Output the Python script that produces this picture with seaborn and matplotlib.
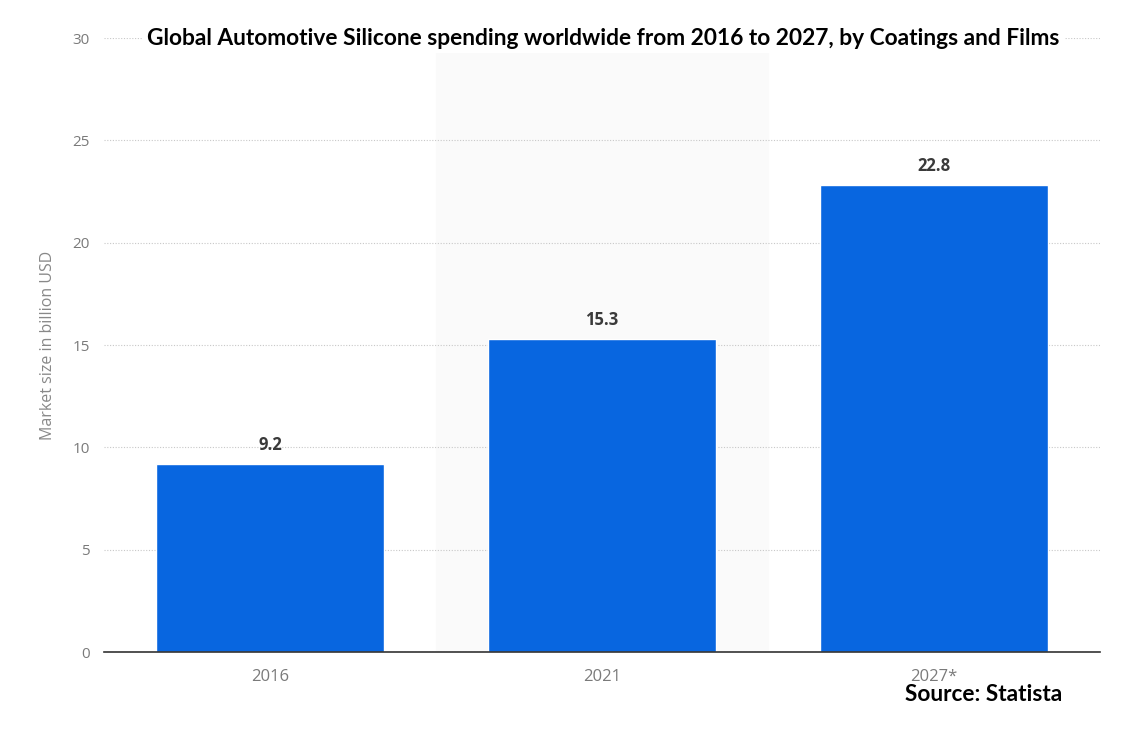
import matplotlib
matplotlib.use("Agg")
import matplotlib.pyplot as plt
import seaborn as sns
import pandas as pd

# Chart data
years = ['2016', '2021', '2027*']
market_size = [9.2, 15.3, 22.8]
y_ticks = [0, 5, 10, 15, 20, 25, 30]

df = pd.DataFrame({'Year': years, 'Market size': market_size})

sns.set_style('white')
plt.rcParams['font.family'] = ['Open Sans', 'DejaVu Sans']

fig = plt.figure(figsize=(11.24, 7.31), dpi=100)
ax = fig.add_axes([0.0925, 0.108, 0.886, 0.840])

# light band behind the middle bar
ax.axvspan(0.5, 1.5, color='#fafafa', zorder=0)

sns.barplot(data=df, x='Year', y='Market size', color='#0866e0',
            width=0.686, saturation=1, ax=ax, zorder=2)

for i, v in enumerate(market_size):
    ax.text(i, v + 0.5, f'{v}', ha='center', va='bottom',
            fontsize=12, fontweight='bold', color='#3a3a3a', zorder=3)

ax.set_xlim(-0.5, 2.5)
ax.set_ylim(0, 30)
ax.set_yticks(y_ticks)
ax.yaxis.grid(True, linestyle=(0, (1, 1.5)), color='#c8c8c8', linewidth=0.8)
ax.set_axisbelow(True)

for s in ['top', 'right', 'left']:
    ax.spines[s].set_visible(False)
ax.spines['bottom'].set_color('#333333')
ax.spines['bottom'].set_linewidth(1.2)
ax.spines['bottom'].set_zorder(4)

ax.tick_params(axis='both', length=0, colors='#7a7a7a')
ax.tick_params(axis='y', pad=10, labelsize=11)
ax.tick_params(axis='x', pad=12, labelsize=12)
ax.set_xlabel('')
ax.set_ylabel('Market size in billion USD', fontsize=11.5, color='#888888', labelpad=12)

fig.text(0.537, 0.947, 'Global Automotive Silicone spending worldwide from 2016 to 2027, by Coatings and Films',
         ha='center', va='center', fontsize=16.4, fontweight='bold', color='black',
         family=['Lato', 'DejaVu Sans'],
         bbox=dict(facecolor='white', edgecolor='none', pad=3), zorder=5)
fig.text(0.875, 0.050, 'Source: Statista', ha='center', va='center',
         fontsize=16.3, fontweight='bold', color='black', family=['Lato', 'DejaVu Sans'])

fig.savefig('out.png', dpi=100)
